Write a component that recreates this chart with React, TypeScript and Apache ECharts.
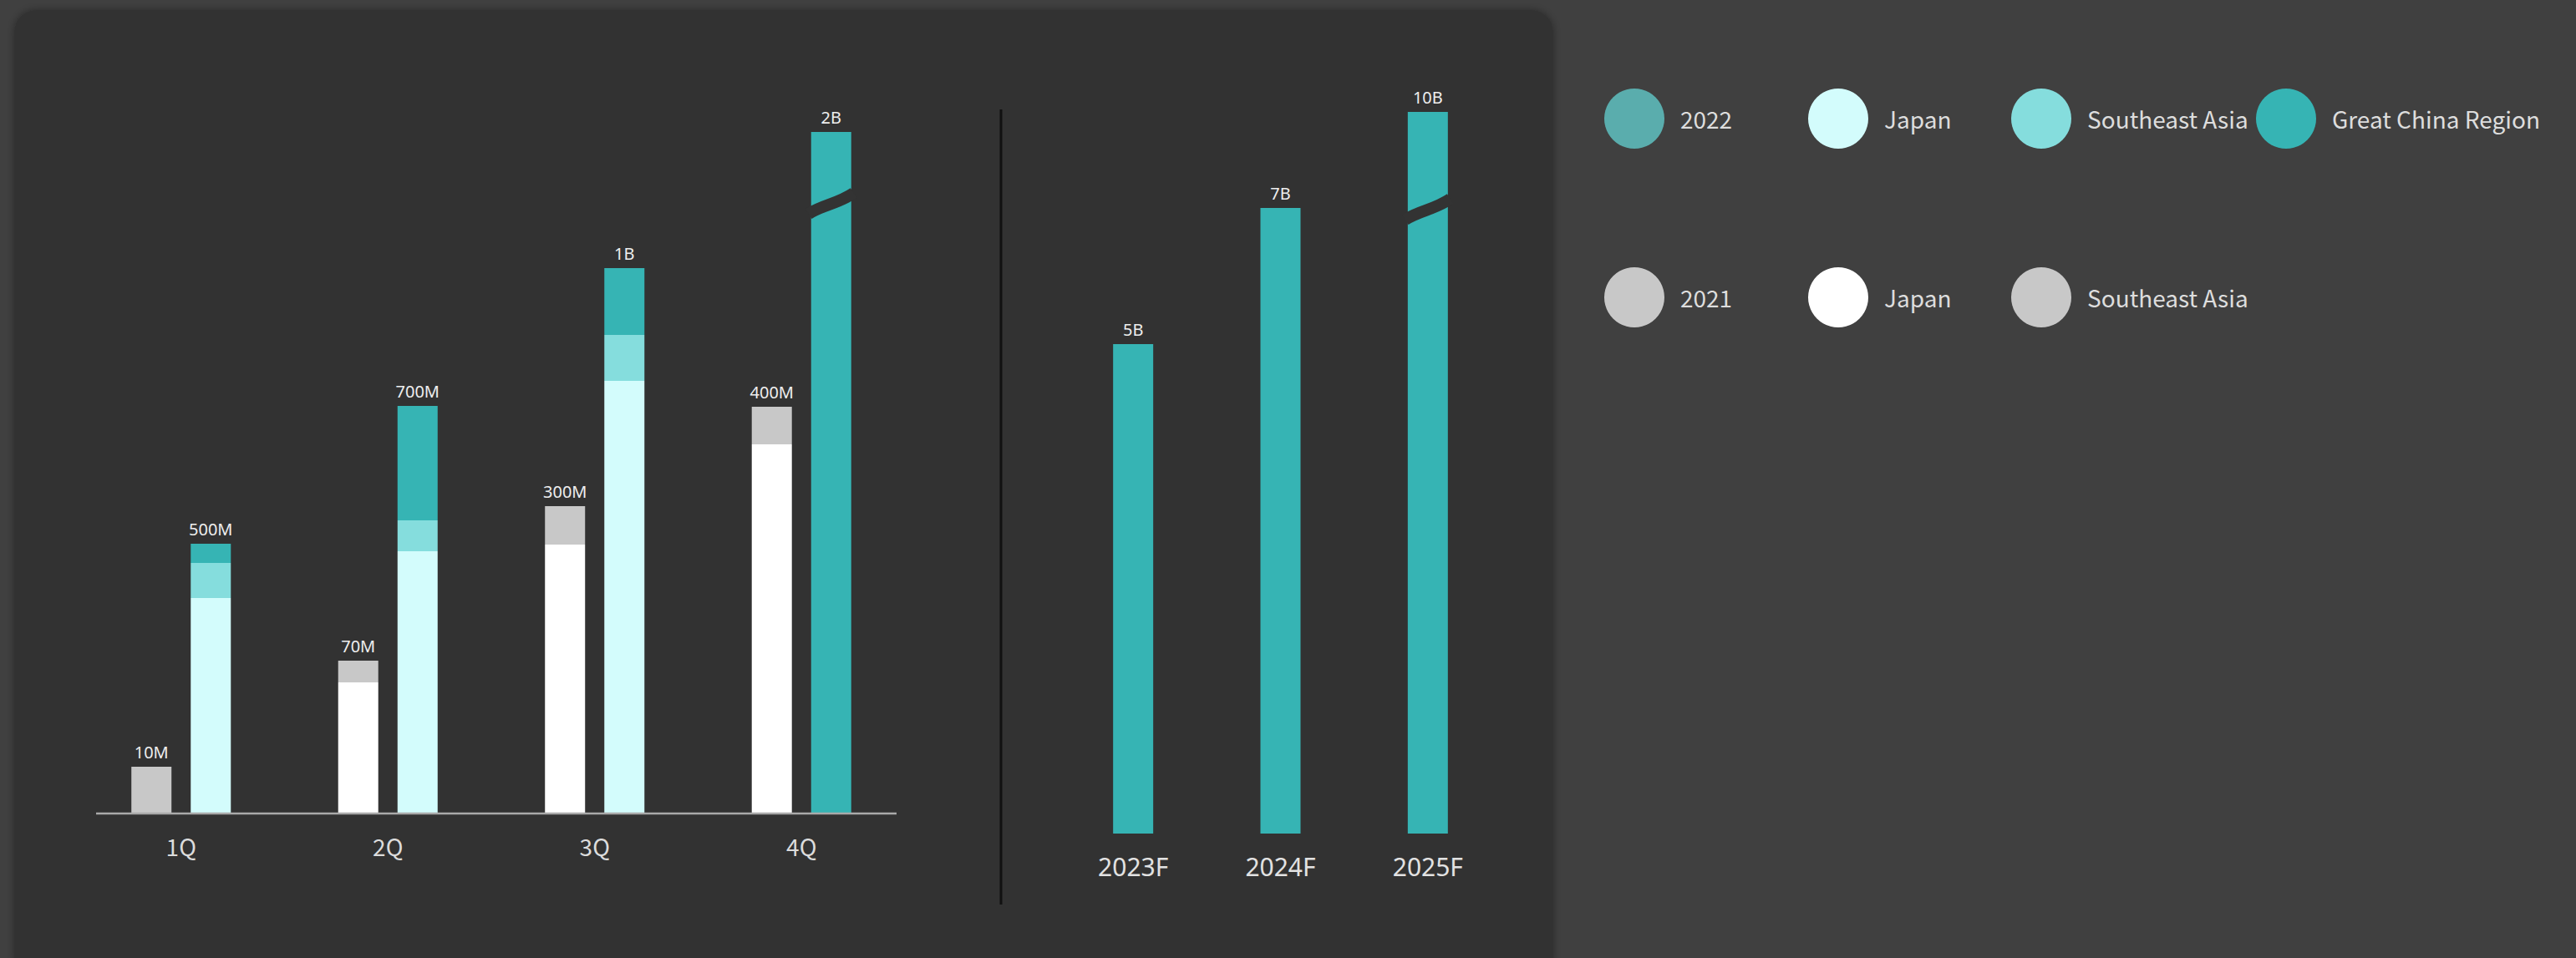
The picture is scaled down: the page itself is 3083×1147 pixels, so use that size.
import React, { useEffect, useRef } from "react";
import * as echarts from "echarts";

// ---- data (bar heights in display units; labels as printed) ----
const CATEGORIES_Q = ["1Q", "2Q", "3Q", "4Q"];
const JAPAN_2021 = [0, 157, 322, 442];
const SEA_2021 = [56, 26, 46, 45];
const LABELS_2021 = ["10M", "70M", "300M", "400M"];
const JAPAN_2022 = [258, 314, 518, 0];
const SEA_2022 = [42, 37, 55, 0];
const GCR_2022 = [23, 137, 80, 816];
const LABELS_2022 = ["500M", "700M", "1B", "2B"];

const CATEGORIES_F = ["2023F", "2024F", "2025F"];
const GCR_FORECAST = [586, 749, 864];
const LABELS_FORECAST = ["5B", "7B", "10B"];

// axis breaks drawn on the tallest bars: [category index, value]
const BREAK_Q = [[3, 731]];
const BREAK_F = [[2, 748]];

const LEGEND_2022 = ["2022", "Japan", "Southeast Asia", "Great China Region"];
const LEGEND_2021 = ["2021", "Japan", "Southeast Asia"];

// ---- styles ----
const C_JAPAN_22 = "#d3fcfc";
const C_SEA_22 = "#85dddd";
const C_GCR = "#36b4b4";
const C_YEAR_22 = "#5aadad";
const C_JAPAN_21 = "#ffffff";
const C_SEA_21 = "#c8c8c8";
const PANEL = "#333333";
const BAR_W = 48;
const BAR_GAP_PX = 23;

const LEGEND_COLORS_22 = [C_YEAR_22, C_JAPAN_22, C_SEA_22, C_GCR];
const LEGEND_COLORS_21 = [C_SEA_21, C_JAPAN_21, C_SEA_21];
const LEGEND_X = [1956, 2200, 2443, 2736];

function breakRenderer(offset: number) {
  return (params: any, api: any) => {
    const p = api.coord([api.value(0), api.value(1)]);
    const cx = p[0] + offset;
    const cy = p[1];
    return {
      type: "bezierCurve",
      shape: {
        x1: cx - 27,
        y1: cy + 13,
        cpx1: cx - 10,
        cpy1: cy + 2,
        cpx2: cx + 8,
        cpy2: cy + 1,
        x2: cx + 27,
        y2: cy - 12,
      },
      style: { stroke: PANEL, lineWidth: 14, fill: null },
    };
  };
}

export default function App() {
  const ref = useRef<HTMLDivElement>(null);

  useEffect(() => {
    if (!ref.current) return;
    const chart = echarts.init(ref.current, undefined, { renderer: "svg" });

    const valueLabel = (labels: string[], font: string) => ({
      show: true,
      position: "top",
      distance: 8,
      color: "#eeeeee",
      fontSize: 20,
      fontFamily: font,
      formatter: (p: any) => labels[p.dataIndex],
    });

    const barBase = {
      type: "bar",
      xAxisIndex: 0,
      yAxisIndex: 0,
      barWidth: BAR_W,
      barGap: `${Math.round((BAR_GAP_PX / BAR_W) * 100)}%`,
      silent: true,
    };

    const legendEls: any[] = [];
    const addLegendRow = (names: string[], colors: string[], cy: number) => {
      names.forEach((name, i) => {
        legendEls.push({
          type: "circle",
          z: 10,
          shape: { cx: LEGEND_X[i], cy, r: 36 },
          style: { fill: colors[i] },
        });
        legendEls.push({
          type: "text",
          z: 10,
          x: LEGEND_X[i] + 55,
          y: cy,
          style: {
            text: name,
            fill: "#dddddd",
            fontSize: 28,
            fontFamily: "Noto Sans CJK KR",
            verticalAlign: "middle",
            align: "left",
          },
        });
      });
    };
    addLegendRow(LEGEND_2022, LEGEND_COLORS_22, 142);
    addLegendRow(LEGEND_2021, LEGEND_COLORS_21, 356);

    const option: any = {
      animation: false,
      backgroundColor: "#404040",
      graphic: {
        elements: [
          {
            type: "rect",
            z: -1,
            shape: { x: 17, y: 12, width: 1842, height: 1160, r: 26 },
            style: {
              fill: PANEL,
              shadowBlur: 10,
              shadowColor: "rgba(0,0,0,0.35)",
            },
          },
          {
            type: "line",
            z: 10,
            shape: { x1: 115, y1: 974, x2: 1073, y2: 974 },
            style: { stroke: "#a9a9a9", lineWidth: 2.5 },
          },
          {
            type: "line",
            z: 10,
            shape: { x1: 1198, y1: 131, x2: 1198, y2: 1083 },
            style: { stroke: "#111111", lineWidth: 3 },
          },
          ...legendEls,
        ],
      },
      grid: [
        { left: 93, width: 990, top: 74, height: 900 },
        { left: 1268, width: 529, top: 98, height: 900 },
      ],
      xAxis: [
        {
          type: "category",
          gridIndex: 0,
          data: CATEGORIES_Q,
          axisLine: { show: false },
          axisTick: { show: false },
          axisLabel: {
            color: "#dcdcdc",
            fontSize: 28,
            margin: 25,
            fontFamily: "Noto Sans CJK KR",
          },
        },
        {
          type: "category",
          gridIndex: 1,
          data: CATEGORIES_F,
          axisLine: { show: false },
          axisTick: { show: false },
          axisLabel: {
            color: "#e2e2e2",
            fontSize: 30,
            margin: 24,
            fontFamily: "Noto Sans",
          },
        },
      ],
      yAxis: [
        { type: "value", gridIndex: 0, min: 0, max: 900, show: false, splitLine: { show: false } },
        { type: "value", gridIndex: 1, min: 0, max: 900, show: false, splitLine: { show: false } },
      ],
      series: [
        { ...barBase, name: "Japan 2021", stack: "y2021", data: JAPAN_2021, itemStyle: { color: C_JAPAN_21 } },
        {
          ...barBase,
          name: "Southeast Asia 2021",
          stack: "y2021",
          data: SEA_2021,
          itemStyle: { color: C_SEA_21 },
          label: valueLabel(LABELS_2021, "Noto Sans"),
        },
        { ...barBase, name: "Japan 2022", stack: "y2022", data: JAPAN_2022, itemStyle: { color: C_JAPAN_22 } },
        { ...barBase, name: "Southeast Asia 2022", stack: "y2022", data: SEA_2022, itemStyle: { color: C_SEA_22 } },
        {
          ...barBase,
          name: "Great China Region 2022",
          stack: "y2022",
          data: GCR_2022,
          itemStyle: { color: C_GCR },
          label: valueLabel(LABELS_2022, "Noto Sans"),
        },
        {
          type: "custom",
          name: "break-q",
          xAxisIndex: 0,
          yAxisIndex: 0,
          z: 5,
          silent: true,
          data: BREAK_Q,
          renderItem: breakRenderer((BAR_W + BAR_GAP_PX) / 2),
        },
        {
          type: "bar",
          name: "Great China Region forecast",
          xAxisIndex: 1,
          yAxisIndex: 1,
          barWidth: BAR_W,
          silent: true,
          data: GCR_FORECAST,
          itemStyle: { color: C_GCR },
          label: valueLabel(LABELS_FORECAST, "Noto Sans"),
        },
        {
          type: "custom",
          name: "break-f",
          xAxisIndex: 1,
          yAxisIndex: 1,
          z: 5,
          silent: true,
          data: BREAK_F,
          renderItem: breakRenderer(0),
        },
      ],
    };

    chart.setOption(option);
    return () => chart.dispose();
  }, []);

  return (
    <div
      ref={ref}
      style={{ position: "fixed", left: 0, top: 0, width: 3083, height: 1147 }}
    />
  );
}
